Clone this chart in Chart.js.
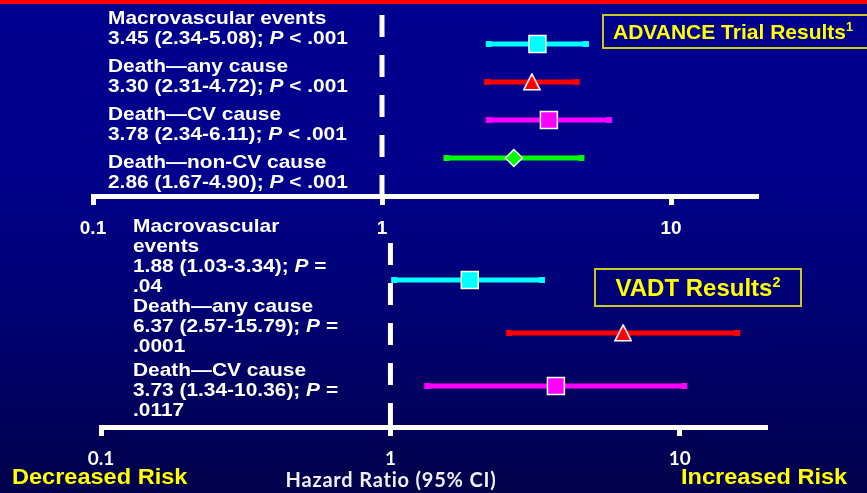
<!DOCTYPE html>
<html>
<head>
    <title>ADVANCE and VADT Hazard Ratios</title>
    <meta charset="UTF-8">
    <style>
        body {
            margin: 0; padding: 0; width: 867px; height: 493px; overflow: hidden; position: relative;
            background: linear-gradient(180deg, #00008e 0%, #00008a 35%, #000070 65%, #00004a 100%);
            font-family: "Liberation Sans", Arial, sans-serif;
        }
        #redbar { position: absolute; left: 0; top: 0; width: 867px; height: 4px; background: #ff0000; }
        canvas { position: absolute; left: 0; }
        #topChart { top: 0; }
        #bottomChart { top: 235px; }
        .group {
            position: absolute; color: #fff; font-weight: bold; font-size: 19px;
            line-height: 20px; white-space: nowrap; z-index: 2;
            transform: scaleX(1.1); transform-origin: 0 0;
        }
        .group .name { white-space: normal; width: 185px; }
        .resbox {
            position: absolute; box-sizing: border-box; border: 2px solid #c8c820;
            color: #ffff00; font-weight: bold; white-space: nowrap; z-index: 2;
        }
        .resbox sup { font-size: 0.6em; line-height: 0; vertical-align: 0.65em; }
        #advanceBox { left: 602px; top: 14px; width: 290px; height: 35px; font-size: 21px; line-height: 31px; padding-left: 9px; }
        #vadtBox { left: 594px; top: 268px; width: 208px; height: 39px; font-size: 24px; line-height: 35px; text-align: center; }
        .risk {
            position: absolute; top: 466px; color: #ffff00; font-weight: bold; font-size: 22px;
            line-height: 22px; white-space: nowrap; transform: scaleX(1.07); transform-origin: 0 0;
        }
        #decreased { left: 12px; }
        #increased { left: 681px; }
        #xtitle {
            position: absolute; top: 467px; left: 391px; transform: translateX(-50%);
            color: #f0f0f4; font-family: Lato, "Open Sans", sans-serif; font-weight: bold;
            font-size: 20px; line-height: 24px; letter-spacing: 0.8px; white-space: nowrap;
        }
    </style>
</head>
<body>
    <div id="redbar"></div>
    <canvas id="topChart" width="867" height="245"></canvas>
    <canvas id="bottomChart" width="867" height="258"></canvas>
    <div id="advanceBox" class="resbox">ADVANCE Trial Results<sup>1</sup></div>
    <div id="vadtBox" class="resbox">VADT Results<sup>2</sup></div>
    <div id="decreased" class="risk">Decreased Risk</div>
    <div id="increased" class="risk">Increased Risk</div>
    <div id="xtitle">Hazard Ratio (95% CI)</div>

    <script src="https://cdn.jsdelivr.net/npm/chart.js"></script>
    <script>
        // ADVANCE trial
        const advanceNames = ['Macrovascular events', 'Death\u2014any cause', 'Death\u2014CV cause', 'Death\u2014non-CV cause'];
        const advanceHR = [3.45, 3.30, 3.78, 2.86];
        const advanceLo = [2.34, 2.31, 2.34, 1.67];
        const advanceHi = [5.08, 4.72, 6.11, 4.90];
        const advanceP = ['< .001', '< .001', '< .001', '< .001'];

        // VADT
        const vadtNames = ['Macrovascular events', 'Death\u2014any cause', 'Death\u2014CV cause'];
        const vadtHR = [1.88, 6.37, 3.73];
        const vadtLo = [1.03, 2.57, 1.34];
        const vadtHi = [3.34, 15.79, 10.36];
        const vadtP = ['= .04', '= .0001', '= .0117'];

        const rowColors = ['#00ffff', '#ff0000', '#ff00ff', '#00ff00'];
        const rowMarkers = ['rect', 'triangle', 'rect', 'rectRot'];
        const tickValues = [0.1, 1, 10];
        const tickLabels = ['0.1', '1', '10'];

        const markerRadius = { rect: 12, triangle: 9, rectRot: 8.5 };

        // triangle sprite centred on its bounding box, like the slide's marker
        function triangleSprite(color) {
            const c = document.createElement('canvas');
            c.width = 18; c.height = 18;
            const g = c.getContext('2d');
            g.beginPath();
            g.moveTo(9, 0.8); g.lineTo(17.2, 16.8); g.lineTo(0.8, 16.8); g.closePath();
            g.fillStyle = color; g.fill();
            g.lineWidth = 1.5; g.strokeStyle = '#ffffff'; g.stroke();
            return c;
        }

        function esc(s) {
            return s.replace(/&/g, '&amp;').replace(/</g, '&lt;');
        }

        // text blocks beside the bars
        function addGroup(left, top, html) {
            const d = document.createElement('div');
            d.className = 'group';
            d.style.left = left + 'px';
            d.style.top = top + 'px';
            d.innerHTML = html;
            document.body.appendChild(d);
        }

        advanceNames.forEach((name, i) => {
            const pOp = advanceP[i].split(' ');
            addGroup(108, 8.4 + 48 * i,
                esc(name) + '<br>' + advanceHR[i].toFixed(2) + ' (' + advanceLo[i].toFixed(2) + '-' +
                advanceHi[i].toFixed(2) + ');  <i>P</i> ' + esc(pOp[0]) + ' ' + pOp[1]);
        });

        const vadtTops = [216.4, 296.4, 360.4];
        vadtNames.forEach((name, i) => {
            const pOp = vadtP[i].split(' ');
            addGroup(133, vadtTops[i],
                '<div class="name">' + esc(name) + '</div>' +
                vadtHR[i].toFixed(2) + ' (' + vadtLo[i].toFixed(2) + '-' + vadtHi[i].toFixed(2) +
                '); <i>P</i> ' + esc(pOp[0]) + '<br>' + pOp[1]);
        });

        function buildDatasets(hr, lo, hi, refFrom, refTo) {
            const n = hr.length;
            const ds = [];
            // point estimates (first = drawn on top)
            ds.push({
                data: hr.map((v, i) => ({ x: v, y: i + 1 })),
                showLine: false,
                pointStyle: rowMarkers.slice(0, n).map((m, i) => m === 'triangle' ? triangleSprite(rowColors[i]) : m),
                pointRadius: rowMarkers.slice(0, n).map(m => markerRadius[m]),
                pointBackgroundColor: rowColors.slice(0, n),
                pointBorderColor: '#ffffff',
                pointBorderWidth: 1.5
            });
            // confidence intervals
            for (let i = 0; i < n; i++) {
                ds.push({
                    data: [{ x: lo[i], y: i + 1 }, { x: hi[i], y: i + 1 }],
                    showLine: true,
                    borderColor: rowColors[i],
                    borderWidth: 5,
                    pointStyle: 'rect',
                    pointRadius: 4.2,
                    pointBackgroundColor: rowColors[i],
                    pointBorderWidth: 0
                });
            }
            // dashed line at HR = 1
            ds.push({
                data: [{ x: 1, y: refFrom }, { x: 1, y: refTo }],
                showLine: true,
                borderColor: '#ffffff',
                borderWidth: 5,
                borderDash: [22, 18],
                pointRadius: 0,
                clip: false
            });
            return ds;
        }

        function xAxis(axisHeight, tickFont, tickPad) {
            return {
                type: 'logarithmic',
                min: 0.1,
                max: 20,
                afterBuildTicks: scale => { scale.ticks = tickValues.map(v => ({ value: v })); },
                afterFit: scale => { scale.height = axisHeight; },
                ticks: {
                    autoSkip: false,
                    maxRotation: 0,
                    color: '#ffffff',
                    font: tickFont,
                    padding: tickPad,
                    callback: v => {
                        const k = tickValues.indexOf(v);
                        return k >= 0 ? tickLabels[k] : '';
                    }
                },
                grid: { drawOnChartArea: false, drawTicks: true, tickLength: 9, tickWidth: 5, tickColor: '#ffffff' },
                border: { display: true, color: '#ffffff', width: 5 }
            };
        }

        const commonPlugins = { legend: { display: false }, tooltip: { enabled: false } };

        new Chart(document.getElementById('topChart'), {
            type: 'scatter',
            data: { datasets: buildDatasets(advanceHR, advanceLo, advanceHi, 0.237, 5.03) },
            options: {
                responsive: false,
                animation: false,
                events: [],
                layout: { autoPadding: false, padding: { left: 93, right: 109, top: 6, bottom: 0 } },
                plugins: commonPlugins,
                scales: {
                    x: xAxis(49, { family: '"Liberation Sans", Arial, sans-serif', size: 19, weight: 'bold' }, 12),
                    y: { display: false, min: 0, max: 5, reverse: true }
                }
            }
        });

        new Chart(document.getElementById('bottomChart'), {
            type: 'scatter',
            data: { datasets: buildDatasets(vadtHR, vadtLo, vadtHi, 0.302, 3.83) },
            options: {
                responsive: false,
                animation: false,
                events: [],
                layout: { autoPadding: false, padding: { left: 101, right: 100, top: 5, bottom: 0 } },
                plugins: commonPlugins,
                scales: {
                    x: xAxis(66, { family: 'Lato, "Open Sans", sans-serif', size: 19, weight: 'bold' }, 11),
                    y: { display: false, min: 0.245, max: 3.774, reverse: true }
                }
            }
        });
    </script>
</body>
</html>
